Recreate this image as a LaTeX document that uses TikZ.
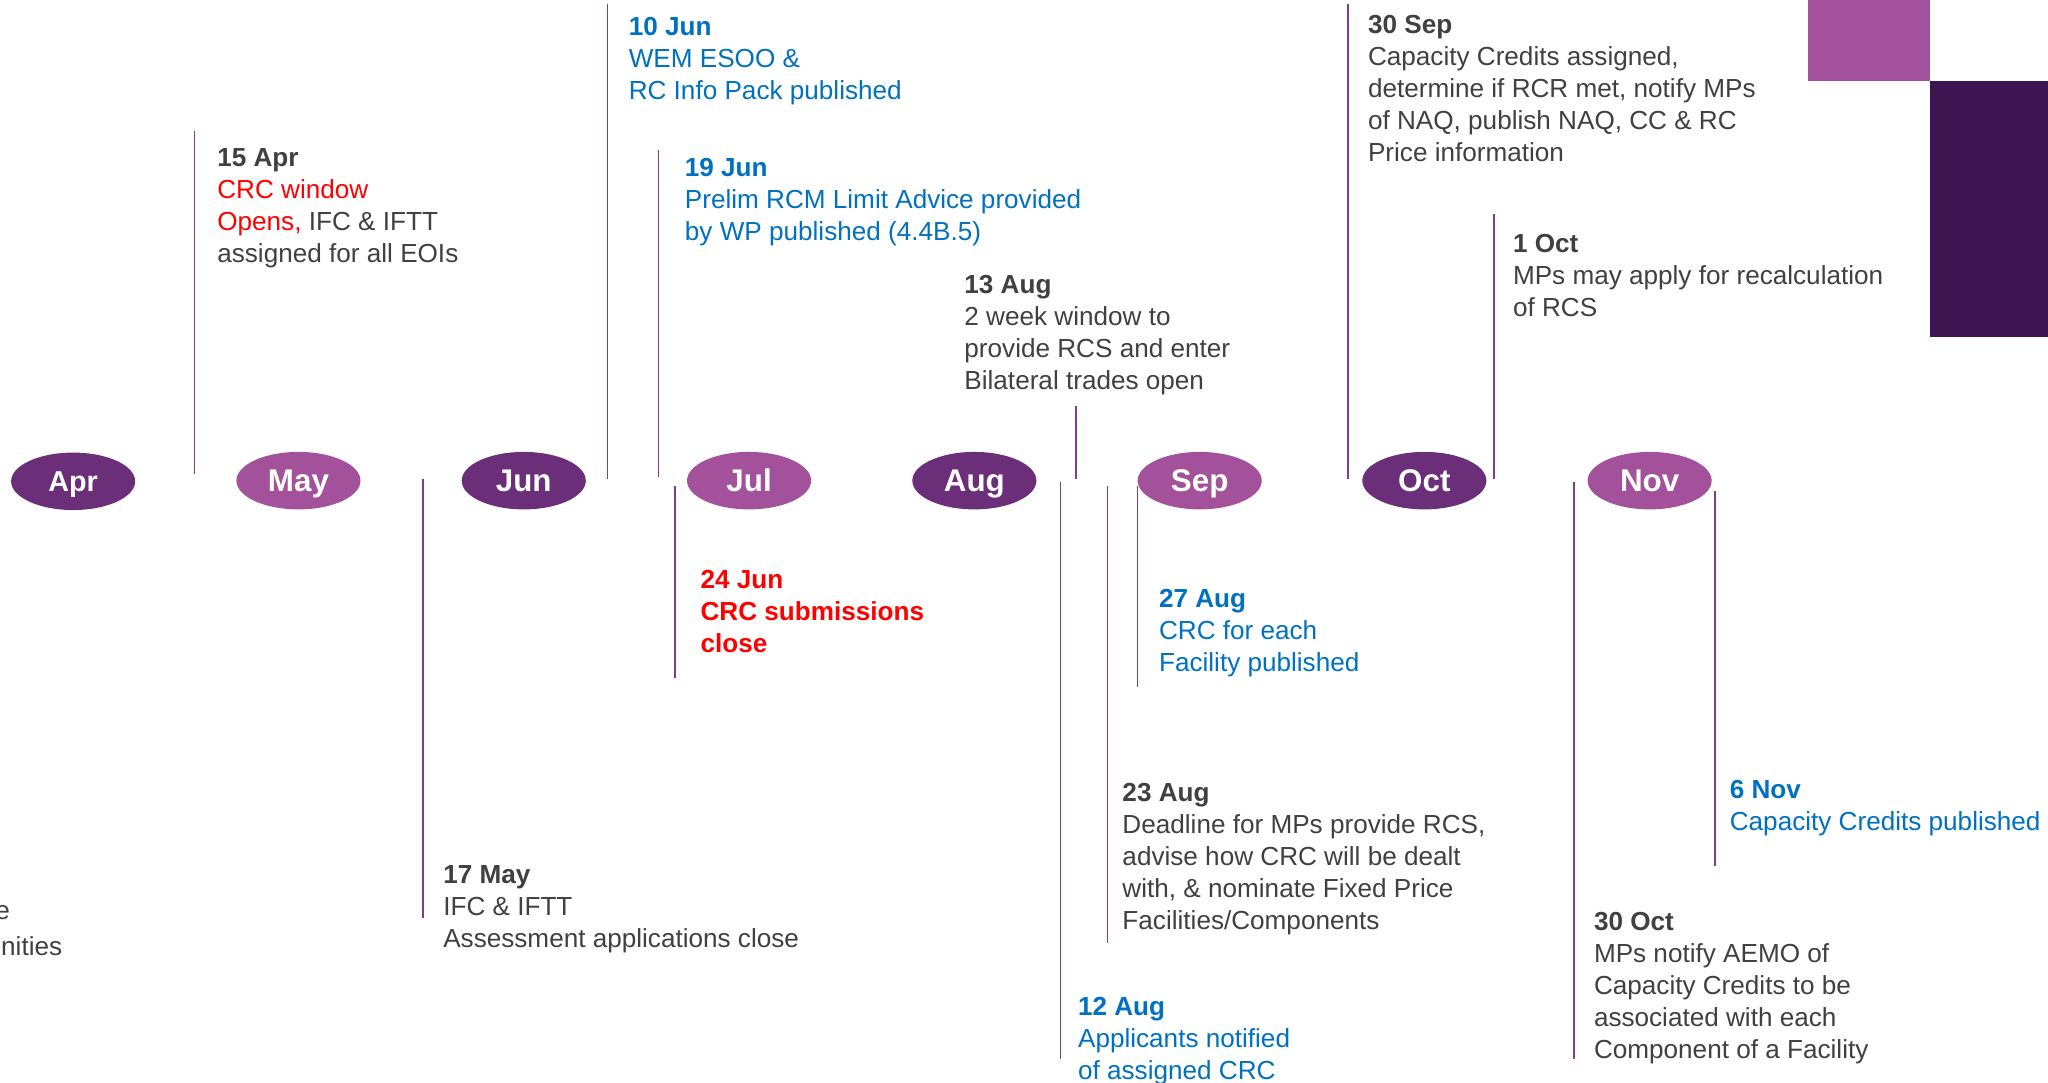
\documentclass[tikz,border=0pt]{standalone}
\usepackage{fontspec}
\setmainfont{Liberation Sans}
\usetikzlibrary{shapes.geometric}
\definecolor{mdark}{HTML}{6B2E78}
\definecolor{mlight}{HTML}{A4519C}
\definecolor{rdark}{HTML}{3E1451}
\definecolor{lnc}{HTML}{7D3C8C}
\definecolor{tgray}{HTML}{404040}
\definecolor{tblue}{HTML}{0070C0}
\definecolor{tred}{HTML}{FF0000}
\begin{document}
\begin{tikzpicture}[x=0.5pt,y=-0.5pt,
  month/.style={ellipse, minimum width=47.5pt, minimum height=22pt, inner sep=0pt, text height=8.6pt, text depth=0pt, text=white, font=\bfseries\fontsize{12}{14}\selectfont},
  mdk/.style={month, fill=mdark},
  mlt/.style={month, fill=mlight},
  note/.style={anchor=north west, inner sep=0pt, align=left, font=\fontsize{10}{12.25}\selectfont, text=tgray},
  bnote/.style={note, text=tblue},
  tick/.style={draw=lnc, line width=0.6pt}]
\useasboundingbox (0,0) rectangle (1568,829);
\clip (0,0) rectangle (1568,829);
% corner blocks
\fill[mlight] (1384,0) rectangle (1478,62);
\fill[rdark] (1478,62) rectangle (1568,258);
% months
\node[mdk, font=\bfseries\fontsize{11}{13}\selectfont, text height=7.9pt] (apr) at (56,368.5) {Apr};
\node[mlt] (may) at (228.5,368) {May};
\node[mdk] (jun) at (401,368) {Jun};
\node[mlt] (jul) at (573.5,368) {Jul};
\node[mdk] (aug) at (746,368) {Aug};
\node[mlt] (sep) at (918.5,368) {Sep};
\node[mdk] (oct) at (1090.5,368) {Oct};
\node[mlt] (nov) at (1263,368) {Nov};
% ticks above
\draw[tick] (149,100) -- (149,363);
\draw[tick] (465,3) -- (465,367);
\draw[tick] (504,115) -- (504,365);
\draw[tick] (824,311) -- (824,367);
\draw[tick] (1032,3) -- (1032,367);
\draw[tick] (1144,164) -- (1144,367);
% ticks below
\draw[tick] (324,367) -- (324,703);
\draw[tick] (517,372) -- (517,519);
\draw[tick] (812,369) -- (812,811);
\draw[tick] (848,372) -- (848,722);
\draw[tick] (871,372) -- (871,526);
\draw[tick] (1205,369) -- (1205,811);
\draw[tick] (1313,376) -- (1313,663);
% notes above
\node[note] (n15apr) at (166,113) {\textbf{15 Apr}\\\textcolor{tred}{CRC window}\\\textcolor{tred}{Opens,} IFC \& IFTT\\assigned for all EOIs};
\node[bnote] (n10jun) at (481,13) {\textbf{10 Jun}\\WEM ESOO \&\\RC Info Pack published};
\node[bnote] (n19jun) at (524,121) {\textbf{19 Jun}\\Prelim RCM Limit Advice provided\\by WP published (4.4B.5)};
\node[note] (n13aug) at (738,210) {\textbf{13 Aug}\\2 week window to\\provide RCS and enter\\Bilateral trades open};
\node[note] (n30sep) at (1047,11) {\textbf{30 Sep}\\Capacity Credits assigned,\\determine if RCR met, notify MPs\\of NAQ, publish NAQ, CC \& RC\\Price information};
\node[note] (n1oct) at (1158,179) {\textbf{1 Oct}\\MPs may apply for recalculation\\of RCS};
% notes below
\node[note, text=tred, font=\bfseries\fontsize{10}{12.25}\selectfont] (n24jun) at (536,436) {24 Jun\\CRC submissions\\close};
\node[bnote] (n27aug) at (887,451) {\textbf{27 Aug}\\CRC for each\\Facility published};
\node[note] (n23aug) at (859,599) {\textbf{23 Aug}\\Deadline for MPs provide RCS,\\advise how CRC will be dealt\\with, \& nominate Fixed Price\\Facilities/Components};
\node[bnote] (n6nov) at (1324,597) {\textbf{6 Nov}\\Capacity Credits published};
\node[note] (n17may) at (339,662) {\textbf{17 May}\\IFC \& IFTT\\Assessment applications close};
\node[bnote] (n12aug) at (825,763) {\textbf{12 Aug}\\Applicants notified\\of assigned CRC};
\node[note] (n30oct) at (1220,698) {\textbf{30 Oct}\\MPs notify AEMO of\\Capacity Credits to be\\associated with each\\Component of a Facility};
% cut-off fragment at left edge (cut in the reference as well)
\node[note, anchor=north east] (fragA) at (8,693) {e};
\node[note, anchor=north east] (fragB) at (48,717) {unities};
\end{tikzpicture}
\end{document}
